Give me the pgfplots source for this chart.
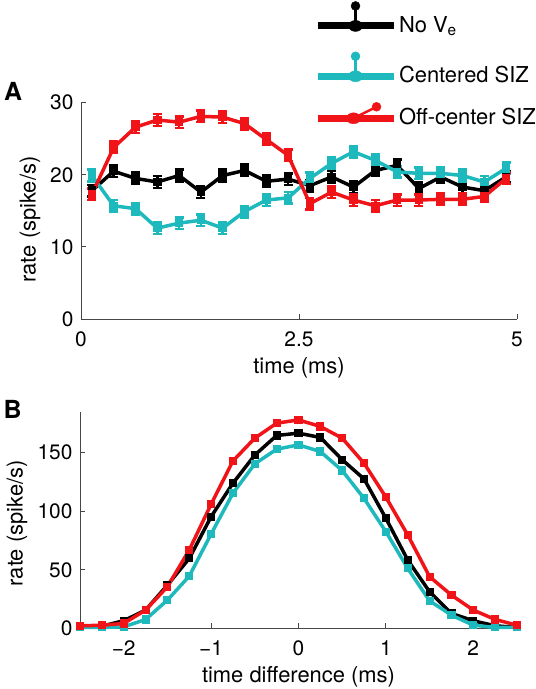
\documentclass[border=0pt]{standalone}
\usepackage{fontspec}
\setmainfont{TeX Gyre Heros}
\usepackage{pgfplots}
\pgfplotsset{compat=1.18}
\usepackage{pgfplotstable}
\definecolor{cyanc}{RGB}{30,185,188}
\definecolor{redc}{RGB}{240,20,25}
\definecolor{axgray}{RGB}{70,70,70}

\pgfplotstableread{
x y e
0.125 17.8 0.8
0.375 20.5 0.8
0.625 19.5 0.8
0.875 19.0 0.8
1.125 19.9 0.8
1.375 17.6 0.8
1.625 19.9 0.8
1.875 20.6 0.8
2.125 19.1 0.8
2.375 19.4 0.8
2.625 18.5 0.8
2.875 19.7 0.8
3.125 18.3 0.8
3.375 20.6 0.8
3.625 21.3 0.8
3.875 18.1 0.8
4.125 19.7 0.8
4.375 18.3 0.8
4.625 17.8 0.8
4.875 19.7 0.8
}\Ablack
\pgfplotstableread{
x y e
0.125 19.9 0.8
0.375 15.7 0.8
0.625 15.3 0.8
0.875 12.6 0.8
1.125 13.3 0.8
1.375 13.7 0.8
1.625 12.6 0.8
1.875 14.9 0.8
2.125 16.5 0.8
2.375 16.8 0.8
2.625 19.5 0.8
2.875 21.6 0.8
3.125 23.2 0.8
3.375 22.0 0.8
3.625 20.4 0.8
3.875 20.2 0.8
4.125 20.2 0.8
4.375 19.9 0.8
4.625 19.0 0.8
4.875 20.9 0.8
}\Acyan
\pgfplotstableread{
x y e
0.125 17.3 0.8
0.375 23.8 0.8
0.625 26.6 0.8
0.875 27.6 0.8
1.125 27.3 0.8
1.375 28.1 0.8
1.625 28.0 0.8
1.875 27.1 0.8
2.125 24.9 0.8
2.375 22.7 0.8
2.625 16.0 0.8
2.875 17.6 0.8
3.125 16.5 0.8
3.375 15.7 0.8
3.625 16.5 0.8
3.875 16.5 0.8
4.125 16.6 0.8
4.375 16.6 0.8
4.625 17.0 0.8
4.875 19.5 0.8
}\Ared

\pgfplotstableread{
x y
-2.5 1.4
-2.25 2.0
-2.0 6.6
-1.75 15.7
-1.5 37.0
-1.25 59.8
-1.0 95.4
-0.75 124.0
-0.5 148.0
-0.25 164.7
0.0 166.7
0.25 163.0
0.5 144.0
0.75 127.6
1.0 94.0
1.25 58.4
1.5 31.3
1.75 12.8
2.0 6.6
2.25 2.3
2.5 0.9
}\Bblack
\pgfplotstableread{
x y
-2.5 0.9
-2.25 0.9
-2.0 1.4
-1.75 7.7
-1.5 24.2
-1.25 44.7
-1.0 80.6
-0.75 115.4
-0.5 140.5
-0.25 153.0
0.0 156.7
0.25 151.0
0.5 134.8
0.75 111.0
1.0 82.6
1.25 51.3
1.5 23.6
1.75 11.4
2.0 2.8
2.25 0.9
2.5 0.9
}\Bcyan
\pgfplotstableread{
x y
-2.5 2.3
-2.25 2.8
-2.0 4.3
-1.75 15.7
-1.5 35.6
-1.25 67.0
-1.0 106.0
-0.75 143.0
-0.5 162.4
-0.25 175.2
0.0 178.0
0.25 172.4
0.5 162.4
0.75 141.0
1.0 112.0
1.25 79.8
1.5 44.2
1.75 28.5
2.0 15.7
2.25 7.7
2.5 2.8
}\Bred

\pgfplotsset{
  legBlack/.style={legend image code/.code={
    \draw[black, line width=7bp] (0bp,0bp) -- (76bp,0bp);
    \fill[black] (38bp,0bp) ellipse (7bp and 5.5bp);
    \draw[black, line width=2.5bp] (38bp,0bp) -- (38bp,18bp);
    \fill[black] (38bp,20bp) circle (4.5bp);
  }},
  legCyan/.style={legend image code/.code={
    \draw[cyanc, line width=7bp] (0bp,0bp) -- (76bp,0bp);
    \fill[cyanc] (38bp,0bp) ellipse (7bp and 5.5bp);
    \draw[cyanc, line width=2.5bp] (38bp,0bp) -- (38bp,18bp);
    \fill[cyanc] (38bp,20bp) circle (4.5bp);
  }},
  legRed/.style={legend image code/.code={
    \draw[redc, line width=7bp] (0bp,0bp) -- (76bp,0bp);
    \fill[redc] (36bp,0bp) ellipse (7bp and 5.5bp);
    \draw[redc, line width=2.5bp] (38bp,1bp) -- (56bp,10bp);
    \fill[redc] (59bp,11.5bp) circle (4.5bp);
  }},
  common/.style={
    scale only axis,
    axis lines*=left,
    axis line style={axgray, line width=0.9bp},
    tick style={axgray, line width=0.9bp},
    tick align=inside,
    major tick length=5bp,
    /pgf/number format/assume math mode=true,
    tick label style={font=\fontsize{21}{24}\selectfont},
    label style={font=\fontsize{22}{25}\selectfont},
    xticklabel style={yshift=-5bp},
    clip=false,
  },
  serA/.style={line width=3.5bp, mark=square*, mark size=2.5bp,
    error bars/y dir=both, error bars/y explicit,
    error bars/error mark options={line width=2.5bp, mark size=4.5bp, rotate=90, #1},
    error bars/error bar style={line width=2.5bp, #1}},
  serB/.style={line width=3.5bp, mark=square*, mark size=2.3bp},
}

\begin{document}
\fontsize{22}{25}\selectfont
\begin{tikzpicture}
\useasboundingbox (0bp,0bp) rectangle (536bp,689bp);

\begin{axis}[common,
  at={(81bp,370bp)}, anchor=south west,
  width=436bp, height=216.3bp,
  xmin=0, xmax=5, ymin=0, ymax=30,
  xtick={0,2.5,5}, xticklabels={0,2.5,5},
  ytick={0,10,20,30},
  xlabel={time (ms)}, ylabel={rate (spike/s)},
  xlabel style={at={(axis description cs:0.5,-0.226)}, anchor=center},
  ylabel style={at={(axis description cs:-0.117,0.46)}, anchor=center},
  legend style={at={(0.534,1.47)}, anchor=north west, draw=none, fill=none,
    inner sep=0pt, row sep=14bp, font=\fontsize{22}{25}\selectfont},
  legend cell align=left,
]
\addlegendimage{legBlack}
\addlegendentry{No V\textsubscript{e}}
\addlegendimage{legCyan}
\addlegendentry{Centered SIZ}
\addlegendimage{legRed}
\addlegendentry{Off-center SIZ}
\addplot[black, serA=black, forget plot] table[x=x, y=y, y error=e] {\Ablack};
\addplot[cyanc, serA=cyanc, forget plot] table[x=x, y=y, y error=e] {\Acyan};
\addplot[redc, serA=redc, forget plot] table[x=x, y=y, y error=e] {\Ared};
\end{axis}

\begin{axis}[common,
  at={(80bp,60.5bp)}, anchor=south west,
  width=437bp, height=216.8bp,
  xmin=-2.5, xmax=2.5, ymin=0, ymax=185,
  xtick={-2,-1,0,1,2}, xticklabels={−2,−1,0,1,2},
  ytick={0,50,100,150},
  xlabel={time difference (ms)}, ylabel={rate (spike/s)},
  xlabel style={at={(axis description cs:0.5,-0.222)}, anchor=center},
  ylabel style={at={(axis description cs:-0.144,0.485)}, anchor=center},
]
\addplot[black, serB] table[x=x, y=y] {\Bblack};
\addplot[cyanc, serB] table[x=x, y=y] {\Bcyan};
\addplot[redc, serB] table[x=x, y=y] {\Bred};
\end{axis}

\node[font=\fontsize{25}{28}\selectfont\bfseries] at (13bp,597.5bp) {A};
\node[font=\fontsize{25}{28}\selectfont\bfseries] at (12.5bp,280bp) {B};
\end{tikzpicture}
\end{document}
